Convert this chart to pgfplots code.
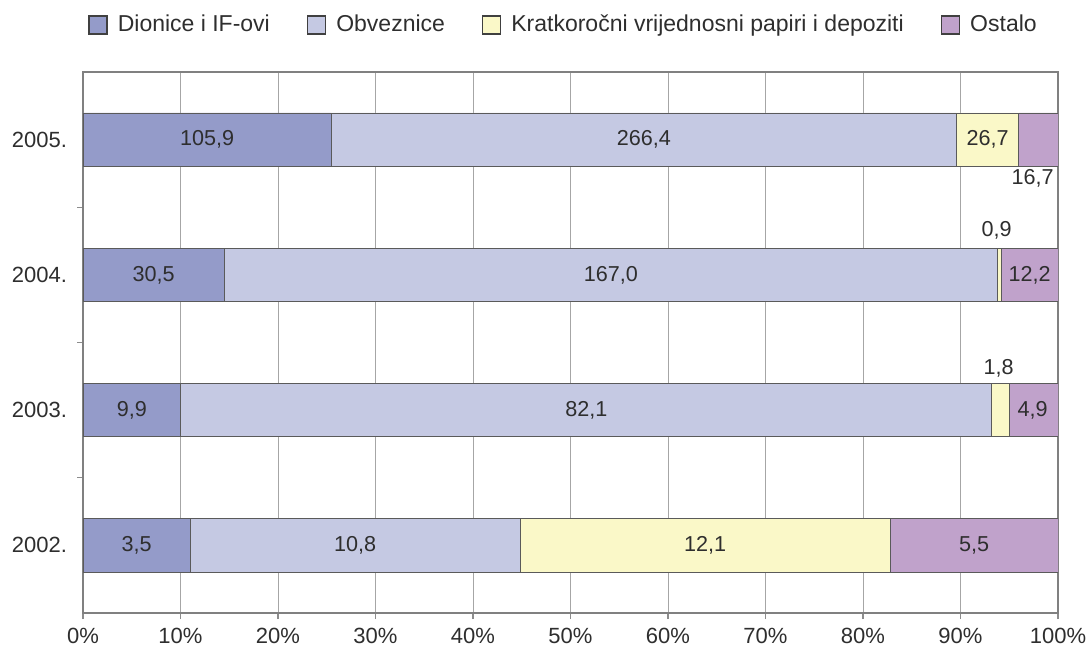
\documentclass[border=0pt]{standalone}
\usepackage{fontspec}
\setmainfont{Liberation Sans}
\usepackage{pgfplots}
\pgfplotsset{compat=1.18}

\definecolor{cDion}{HTML}{949BC9}
\definecolor{cObv}{HTML}{C5C9E3}
\definecolor{cKrat}{HTML}{FAF8C8}
\definecolor{cOst}{HTML}{C0A2CB}
\definecolor{cEdge}{HTML}{5A5A5A}
\definecolor{cTxt}{HTML}{2E2E2E}

\begin{document}
\begin{tikzpicture}
% page = 1091x648 px at 0.5pt/px
\useasboundingbox (-41.5pt,-17.5pt) rectangle (504pt,306.5pt);
\begin{axis}[
  scale only axis,
  width=487.5pt, height=270.5pt,
  xbar stacked,
  bar width=0.394,
  xmin=0, xmax=100,
  ymin=-0.5, ymax=3.5,
  xtick={0,10,...,100},
  xticklabels={0\%,10\%,20\%,30\%,40\%,50\%,60\%,70\%,80\%,90\%,100\%},
  ytick={0,1,2,3},
  yticklabels={2002.,2003.,2004.,2005.},
  minor ytick={0.5,1.5,2.5},
  tick align=outside,
  major tick length=3pt,
  minor tick length=3pt,
  xtick pos=bottom,
  ytick pos=left,
  major y tick style={draw=none},
  tick style={color=black!45, line width=0.6pt},
  xmajorgrids,
  major grid style={color=black!35, line width=0.5pt},
  axis line style={color=black!50, line width=0.8pt},
  ticklabel style={font=\fontsize{11}{13}\selectfont, text=cTxt},
  xticklabel shift=1.2pt,
  yticklabel shift=1.5pt,
  legend columns=4,
  legend style={
    at={(axis description cs:0,1)}, anchor=west,
    xshift=2.5pt, yshift=23.5pt,
    draw=none, fill=none, inner sep=0pt,
    nodes={inner sep=0pt},
    font=\fontsize{11.5}{13}\selectfont, text=cTxt,
    /tikz/every odd column/.append style={column sep=5pt},
    /tikz/every even column/.append style={column sep=18.5pt},
  },
  legend image code/.code={
    \draw[#1, draw=black!75, line width=0.7pt] (0pt,-4.5pt) rectangle (9pt,4.5pt);
  },
]
% shares in percent of each year's total
\addplot[fill=cDion, draw=cEdge, line width=0.4pt] coordinates
  {(10.972,0) (10.030,1) (14.482,2) (25.475,3)};
\addlegendentry{Dionice i IF-ovi}
\addplot[fill=cObv, draw=cEdge, line width=0.4pt] coordinates
  {(33.856,0) (83.181,1) (79.297,2) (64.085,3)};
\addlegendentry{Obveznice}
\addplot[fill=cKrat, draw=cEdge, line width=0.4pt] coordinates
  {(37.931,0) (1.824,1) (0.427,2) (6.423,3)};
\addlegendentry{Kratkoročni vrijednosni papiri i depoziti}
\addplot[fill=cOst, draw=cEdge, line width=0.4pt] coordinates
  {(17.241,0) (4.965,1) (5.793,2) (4.017,3)};
\addlegendentry{Ostalo}
\end{axis}

% value labels
\begin{axis}[
  scale only axis,
  width=487.5pt, height=270.5pt,
  xmin=0, xmax=100,
  ymin=-0.5, ymax=3.5,
  hide axis,
]
\addplot[draw=none, mark=none, nodes near coords, point meta=explicit symbolic,
  nodes near coords style={anchor=center, inner sep=0pt,
    font=\fontsize{10.8}{12}\selectfont, text=cTxt}]
coordinates {
  (12.74,3) [105,9]
  (57.52,3) [266,4]
  (92.77,3) [26,7]
  (97.4,2.716) [16,7]
  (7.24,2) [30,5]
  (54.13,2) [167,0]
  (93.7,2.33) [0,9]
  (97.1,2) [12,2]
  (5.02,1) [9,9]
  (51.62,1) [82,1]
  (93.9,1.31) [1,8]
  (97.4,1) [4,9]
  (5.49,0) [3,5]
  (27.9,0) [10,8]
  (63.8,0) [12,1]
  (91.4,0) [5,5]
};
\end{axis}
\end{tikzpicture}
\end{document}
